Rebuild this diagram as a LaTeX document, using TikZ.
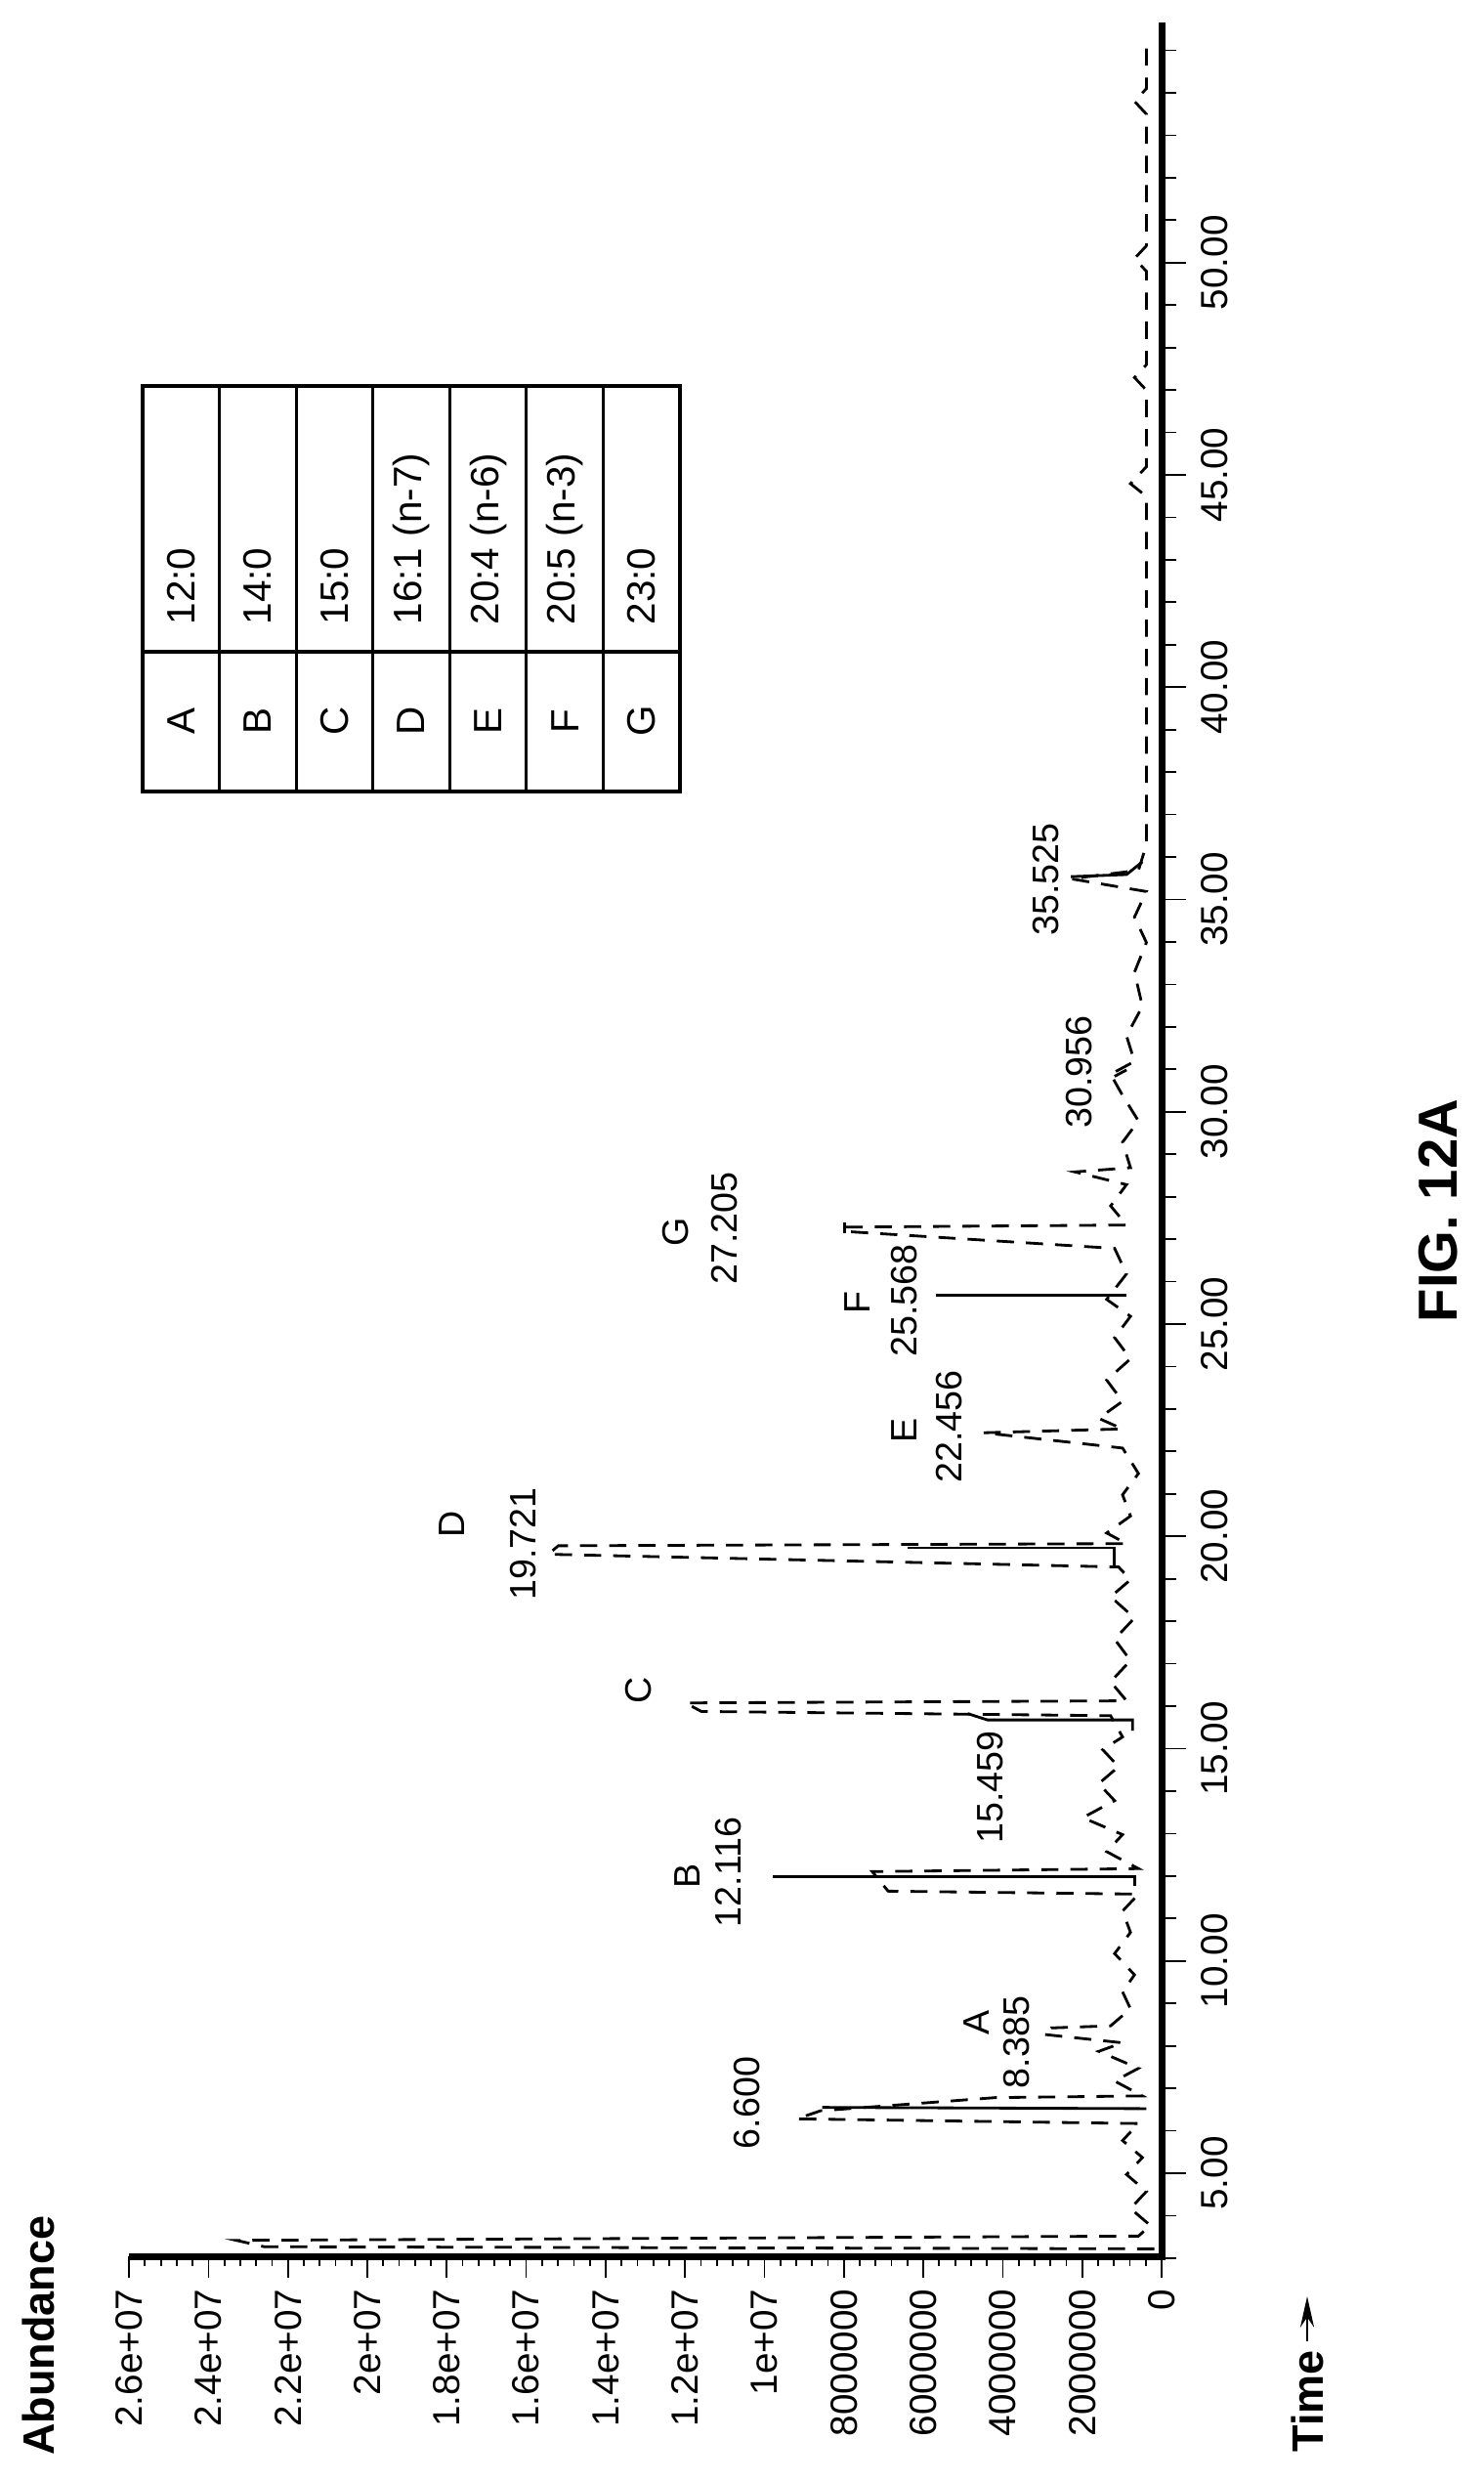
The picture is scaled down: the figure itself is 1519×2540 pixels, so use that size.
\documentclass[tikz,border=0pt]{standalone}
\usepackage{fontspec}
\setmainfont{Liberation Sans}
\usetikzlibrary{arrows.meta}
\tikzset{
  lbl/.style={font=\fontsize{10.7}{12}\selectfont, inner sep=0pt, rotate=90},
  tlbl/.style={font=\fontsize{11}{12}\selectfont, inner sep=0pt, rotate=90},
  tab/.style={font=\fontsize{11.5}{13}\selectfont, inner sep=0pt, rotate=90},
  trace/.style={line width=0.8pt, dash pattern=on 5pt off 3.5pt},
  sol/.style={line width=0.8pt},
  axisline/.style={line width=2pt},
  tick/.style={line width=0.5pt}
}
\begin{document}
\begin{tikzpicture}[x=0.01cm,y=-0.01cm]
\useasboundingbox (0,0) rectangle (1519,2540);
% axes
\draw[axisline] (1189,23) -- (1189,2309) -- (132,2309);
% time ticks
\foreach \t in {3,...,55} {\draw[tick] (1189,{2441.25-43.45*\t}) -- (1204,{2441.25-43.45*\t});}
\foreach \t in {5,10,...,50} {
  \draw[tick] (1189,{2441.25-43.45*\t}) -- (1214,{2441.25-43.45*\t});
  \node[tlbl] (tl\t) at (1243,{2441.25-43.45*\t}) {\t.00};
}
% abundance ticks
\foreach \i in {0,...,65} {\draw[tick] ({1189-16.26*\i},2309) -- ({1189-16.26*\i},2319);}
\foreach \v/\s in {0/0,2/2000000,4/4000000,6/6000000,8/8000000,10/1e+07,12/1.2e+07,14/1.4e+07,16/1.6e+07,18/1.8e+07,20/2e+07,22/2.2e+07,24/2.4e+07,26/2.6e+07} {
  \draw[tick] ({1189-40.65*\v},2309) -- ({1189-40.65*\v},2331);
  \node[tlbl, anchor=east] (al\v) at ({1189-40.65*\v},2342) {\s};
}
\node[font=\bfseries\fontsize{12.8}{14}\selectfont, rotate=90, inner sep=0pt] (abund) at (39,2390) {Abundance};
\node[font=\bfseries\fontsize{12.8}{14}\selectfont, rotate=90, inner sep=0pt, anchor=west] (time) at (1338,2510) {Time};
\coordinate (tarr) at (1338,2350);
\draw[line width=0.8pt, -{Stealth[length=9pt,width=4pt]}] (time.east) ++(0,-8) -- (tarr);
\node[font=\bfseries\fontsize{16}{18}\selectfont, rotate=90, inner sep=0pt] (fig) at (1472,1239) {FIG. 12A};
% table
\draw[line width=1.2pt] (146,395) rectangle (696,810);
\foreach \k in {1,...,6} {\draw[line width=0.8pt] ({146+78.57*\k},395) -- ({146+78.57*\k},810);}
\draw[line width=1.2pt] (146,667) -- (696,667);
\foreach \k/\l/\v in {0/A/12:0,1/B/14:0,2/C/15:0,3/D/16:1 (n-7),4/E/20:4 (n-6),5/F/20:5 (n-3),6/G/23:0} {
  \node[tab] (tl\l) at ({185.3+78.57*\k},738) {\l};
  \node[tab, anchor=west] (tv\l) at ({185.3+78.57*\k},640) {\v};
}
% chromatogram
\begin{scope}[x={(-0.4065cm,0cm)}, y={(0cm,0.4345cm)}, shift={(11.89cm,-24.4125cm)}]
\draw[trace] (0.2,3.25)--(22.6,3.3)--(23.3,3.45)--(0.6,3.55)--(0.3,3.8)--(0.8,4.2)--(0.4,4.6)--(0.9,5.0)--(0.5,5.4)--(1.0,5.8)--(0.6,6.2)--(9.2,6.31)--(8.6,6.5)--(4.2,6.81)--(0.5,6.85)--(1.2,7.2)--(0.6,7.5)--(1.6,7.9)--(1.0,8.1)--(3.0,8.3)--(2.8,8.45)--(1.3,8.5)--(0.8,8.9)--(1.0,9.3)--(0.7,9.7)--(1.2,10.2)--(0.8,10.7)--(1.0,11.2)--(0.6,11.6)--(6.9,11.67)--(7.3,12.13)--(0.6,12.2)--(1.4,12.6)--(1.0,13.0)--(2.0,13.4)--(1.2,13.8)--(1.6,14.2)--(1.1,14.6)--(1.5,15.0)--(1.0,15.3)--(1.3,15.8)--(11.6,15.9)--(12.0,16.1)--(0.9,16.15)--(1.3,16.6)--(0.8,17.1)--(1.2,17.6)--(0.7,18.1)--(1.3,18.6)--(0.8,19.0)--(1.1,19.3)--(15.45,19.6)--(15.2,19.8)--(0.9,19.85)--(1.4,20.1)--(0.8,20.5)--(1.0,21.0)--(0.6,21.5)--(1.0,22.1)--(4.5,22.46)--(1.0,22.55)--(1.6,22.8)--(1.0,23.2)--(1.4,23.7)--(0.8,24.2)--(1.2,24.7)--(0.8,25.2)--(1.4,25.6)--(0.9,26.2)--(1.2,26.8)--(8.0,27.2)--(8.0,27.3)--(0.9,27.35)--(1.3,27.8)--(0.9,28.3)--(2.2,28.6)--(0.8,28.7)--(1.0,29.3)--(0.6,29.8)--(1.0,30.4)--(1.3,30.9)--(0.7,31.2)--(0.9,31.8)--(0.5,32.5)--(0.7,33.3)--(0.4,34.0)--(0.7,34.6)--(0.4,35.2)--(2.3,35.5)--(0.6,35.7)--(0.4,36.3)--(0.4,44.5)--(0.8,44.8)--(0.4,45.2)--(0.4,47.0)--(0.7,47.3)--(0.4,47.6)--(0.4,49.8)--(0.7,50.1)--(0.4,50.4)--(0.4,53.5)--(0.7,53.8)--(0.4,54.1)--(0.4,55.2);
\draw[sol] (0.4,6.55)--(8.56,6.58);
\draw[sol] (0.7,11.8)--(0.7,12.01)--(9.8,12.01);
\draw[sol] (0.75,15.45)--(0.75,15.7)--(4.4,15.7)--(4.9,15.85);
\draw[sol] (1.2,19.3)--(1.2,19.75)--(6.4,19.75);
\draw[sol] (0.9,25.7)--(5.7,25.7);
\draw[sol] (8.0,27.15)--(8.0,27.4);
\draw[sol] (2.3,35.55)--(0.9,35.6)--(0.5,35.9);
\draw[sol] (1.2,30.85)--(0.9,31.0);
\end{scope}
% peak labels (pixel coords)
\node[lbl] (p6600) at (765,2152) {6.600};
\node[lbl] (pA) at (1000,2070) {A};
\node[lbl] (pA2) at (1041,2090) {8.385};
\node[lbl] (pB) at (704,1920) {B};
\node[lbl] (pB2) at (746,1916) {12.116};
\node[lbl] (pC) at (654,1730) {C};
\node[lbl] (pC2) at (1014,1829) {15.459};
\node[lbl] (pD) at (463,1560) {D};
\node[lbl] (pD2) at (536,1580) {19.721};
\node[lbl] (pE) at (926,1464) {E};
\node[lbl] (pE2) at (972,1460) {22.456};
\node[lbl] (pF) at (878,1333) {F};
\node[lbl] (pF2) at (926,1331) {25.568};
\node[lbl] (pG) at (692,1261) {G};
\node[lbl] (pG2) at (742,1257) {27.205};
\node[lbl] (p30) at (1105,1097) {30.956};
\node[lbl] (p35) at (1071,900) {35.525};
\end{tikzpicture}
\end{document}
